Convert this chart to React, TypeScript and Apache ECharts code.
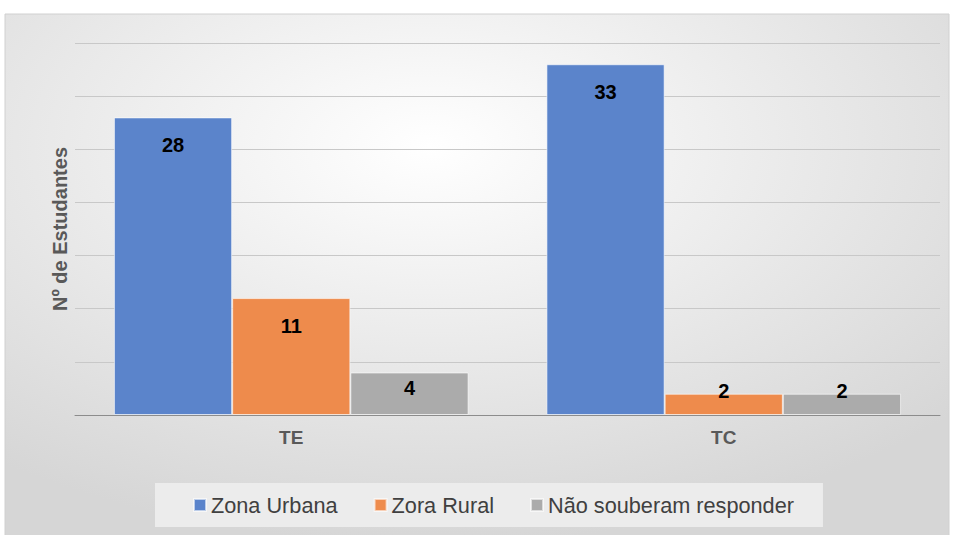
import React, { useEffect, useRef } from "react";
import * as echarts from "echarts";

const categories = ["TE", "TC"];
const seriesNames = ["Zona Urbana", "Zora Rural", "Não souberam responder"];
const zonaUrbana = [28, 33];
const zoraRural = [11, 2];
const naoSouberam = [4, 2];
const colors = ["#5b84cb", "#ee8b4c", "#ababab"];

export default function App() {
  const ref = useRef<HTMLDivElement>(null);
  useEffect(() => {
    document.body.style.margin = "0";
    const chart = echarts.init(ref.current!, null, { renderer: "svg" });
    const font = "Liberation Sans";
    const labelFor = (v: number) => {
      if (v < 3) return { position: "top", distance: -7 };
      if (v < 6) return { position: "insideTop", distance: 6 };
      return undefined;
    };
    const mk = (name: string, vals: number[], color: string) => ({
      name,
      type: "bar",
      barGap: "0%",
      barCategoryGap: "18%",
      itemStyle: { color, borderColor: "rgba(255,255,255,0.6)", borderWidth: 1 },
      data: vals.map((v) => {
        const l = labelFor(v);
        return l ? { value: v, label: l } : { value: v };
      }),
      label: {
        show: true,
        position: "insideTop",
        distance: 18,
        color: "#000",
        fontWeight: "bold",
        fontSize: 20,
        fontFamily: font,
      },
    });
    chart.setOption({
      animation: false,
      backgroundColor: "#ffffff",
      graphic: [
        {
          type: "rect",
          z: -10,
          shape: { x: 5, y: 14, width: 944, height: 530 },
          style: {
            fill: {
              type: "radial",
              x: 0.45,
              y: 0.25,
              r: 0.75,
              colorStops: [
                { offset: 0, color: "#ffffff" },
                { offset: 1, color: "#d6d6d6" },
              ],
            },
            stroke: "#d0d0d0",
            lineWidth: 1,
          },
        },
      ],
      grid: { left: 75, right: 15, top: 43, bottom: 120, containLabel: false },
      legend: {
        data: seriesNames,
        left: 155,
        top: 483,
        backgroundColor: "#ececec",
        padding: [11, 29, 11, 38],
        itemWidth: 12,
        itemHeight: 12,
        itemGap: 36,
        icon: "rect",
        textStyle: { color: "#404040", fontSize: 21.7, fontFamily: font },
      },
      xAxis: {
        type: "category",
        data: categories,
        axisTick: { show: false },
        axisLine: { lineStyle: { color: "#8c8c8c", width: 1 } },
        axisLabel: {
          color: "#595959",
          fontWeight: "bold",
          fontSize: 19,
          fontFamily: font,
          margin: 13,
        },
      },
      yAxis: {
        type: "value",
        min: 0,
        max: 35,
        interval: 5,
        name: "Nº de Estudantes",
        nameLocation: "middle",
        nameGap: 5,
        nameTextStyle: {
          color: "#595959",
          fontWeight: "bold",
          fontSize: 20,
          fontFamily: font,
        },
        axisLabel: { show: false },
        axisTick: { show: false },
        axisLine: { show: false },
        splitLine: { lineStyle: { color: "#c8c8c8", width: 1 } },
      },
      series: [
        mk(seriesNames[0], zonaUrbana, colors[0]),
        mk(seriesNames[1], zoraRural, colors[1]),
        mk(seriesNames[2], naoSouberam, colors[2]),
      ],
    });
    return () => chart.dispose();
  }, []);
  return <div ref={ref} style={{ width: 955, height: 535 }} />;
}
